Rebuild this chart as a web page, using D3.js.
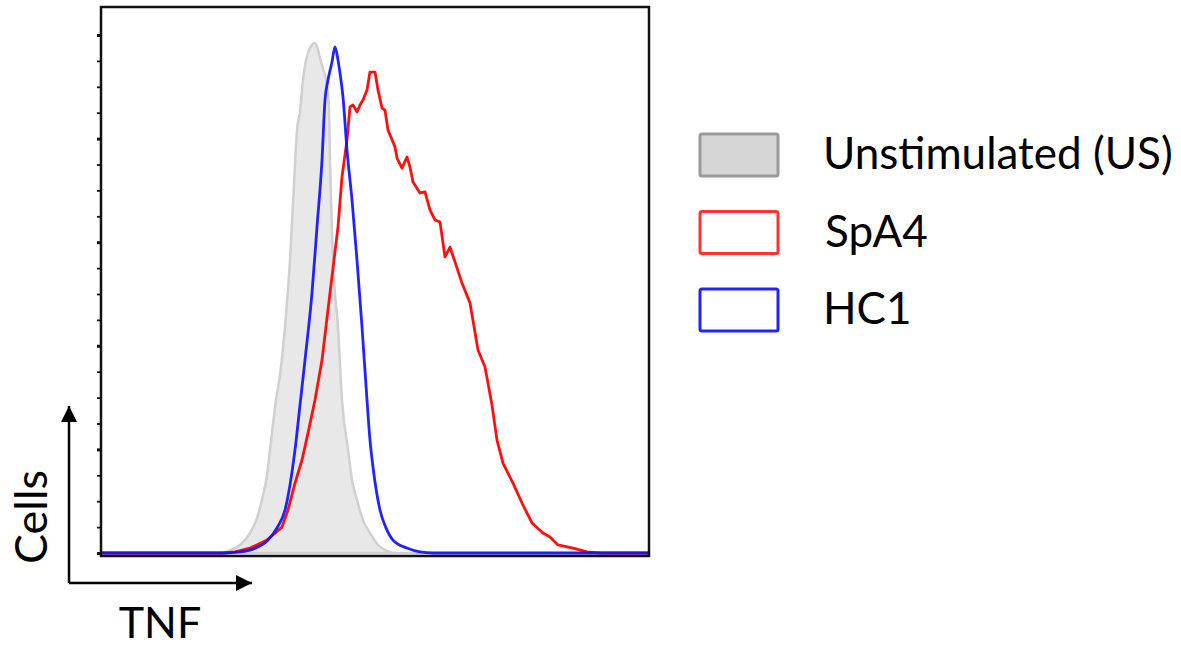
<!DOCTYPE html>
<html>
<head>
<meta charset="utf-8">
<script src="https://cdn.jsdelivr.net/npm/d3@7"></script>
<style>
  body { margin: 0; background: #fff; }
  svg text { font-family: Lato, "Noto Sans", sans-serif; fill: #000; }
</style>
</head>
<body>
<div id="histogram"></div>
<script>
'use strict';

/*** Data (TNF channel, cell count) */
const unstimX = [0, 24, 25.6, 28, 30, 31.4, 32.4, 33.4, 34, 35.2, 36, 37, 38, 39, 39.4, 40, 40.6, 41.2, 42, 43,
                 43.6, 44.2, 44.8, 45.4, 45.8, 46, 46.6, 47.6, 48.4, 49.6, 50.4, 51.4, 52.6, 54, 55.6, 57.4, 59, 110];
const unstimY = [0, 0, 0.08, 0.31, 0.77, 1.35, 2.05, 3.01, 3.98, 5.91, 6.87, 8.73, 11.31, 14.98, 16.33, 17.03, 18.26, 19.03, 19.5, 19.69,
                 19.42, 18.96, 18.57, 18.07, 17.1, 15.17, 11.31, 8.73, 5.91, 3.98, 2.82, 2.05, 1.27, 0.77, 0.31, 0.08, 0, 0];

const spa4X = [0, 24.4, 27, 30, 33.4, 36.4, 37.6, 39, 40.4, 41.6, 43, 44.4, 46, 47.6, 48.4, 49.4, 50, 50.6, 51.4, 52,
               52.6, 53.4, 54, 55, 55.6, 56.4, 57, 57.6, 59, 59.4, 60.4, 61.4, 62, 62.6, 64, 65, 66, 67, 68, 69,
               70, 71, 72.4, 74, 75.6, 77, 78.4, 79.4, 80.6, 82.6, 84.4, 86.4, 88.6, 90, 91.6, 94.6, 97.4, 100, 109.6];
const spa4Y = [0, 0, 0.04, 0.19, 0.5, 1.0, 1.66, 2.7, 3.59, 4.63, 5.91, 7.45, 10.04, 12.59, 14.52, 15.95, 17.22, 17.3, 17.03, 17.3,
               17.49, 17.88, 18.57, 18.57, 17.88, 17.18, 17.1, 16.33, 15.68, 15.25, 14.86, 15.29, 14.9, 14.32, 13.9, 13.94, 13.24, 12.86, 12.78, 11.43,
               11.81, 11.24, 10.42, 9.65, 7.84, 7.18, 5.71, 4.36, 3.47, 2.7, 1.93, 1.16, 0.77, 0.62, 0.31, 0.19, 0.04, 0, 0];

const hc1X = [0, 25, 28, 30.6, 33.4, 35.4, 37, 38, 39, 40, 41, 42.4, 43.4, 44.4, 45, 45.6, 46.4, 47, 47.6, 48,
              48.6, 49.4, 50.4, 51.4, 52.4, 53.4, 54, 54.6, 56, 57.2, 58.6, 61.4, 64, 66.6, 110];
const hc1Y = [0, 0, 0.04, 0.15, 0.46, 0.97, 1.66, 2.63, 3.98, 5.71, 7.45, 10.04, 12.59, 15.17, 17.49, 18.26, 18.96, 19.54, 19.03, 18.53,
              17.61, 15.56, 13.63, 11.31, 8.73, 5.91, 4.36, 3.32, 1.66, 0.97, 0.5, 0.19, 0.04, 0, 0];

/** Legend */
const legendLabels = ["Unstimulated (US)", "SpA4", "HC1"];
const yTickValues = d3.range(0, 21);

/*** Graph dimensions */
const w = 1181;
const h = 648;
const plot = {left: 101, right: 649, top: 7, bottom: 556, zero: 553};

const svg = d3.select("#histogram")
    .append("svg")
    .attr("width", w)
    .attr("height", h);

const xScale = d3.scaleLinear()
    .domain([0, 110])
    .range([100, 650]);

const yScale = d3.scaleLinear()
    .domain([0, 21])
    .range([plot.zero, plot.zero - 21 * 25.9]);

const toPoints = (xs, ys) => xs.map((x, i) => [x, ys[i]]);

const line = d3.line()
    .x(d => xScale(d[0]))
    .y(d => yScale(d[1]));

const area = d3.area()
    .x(d => xScale(d[0]))
    .y0(yScale(0))
    .y1(d => yScale(d[1]))
    .curve(d3.curveMonotoneX);

/** Unstimulated: filled grey */
svg.append("path")
    .datum(toPoints(unstimX, unstimY))
    .attr("d", area)
    .attr("fill", "#e8e8e8")
    .attr("stroke", "#d0d0d0")
    .attr("stroke-width", 2.5);

/** SpA4: red line */
svg.append("path")
    .datum(toPoints(spa4X, spa4Y))
    .attr("d", line)
    .attr("fill", "none")
    .attr("stroke", "#ff1010")
    .attr("stroke-width", 2.8)
    .attr("stroke-linejoin", "round");

/** HC1: blue line */
svg.append("path")
    .datum(toPoints(hc1X, hc1Y))
    .attr("d", line.curve(d3.curveMonotoneX))
    .attr("fill", "none")
    .attr("stroke", "#1010ff")
    .attr("stroke-width", 2.8)
    .attr("stroke-opacity", 0.92);

/** Frame */
svg.append("rect")
    .attr("x", plot.left)
    .attr("y", plot.top)
    .attr("width", plot.right - plot.left)
    .attr("height", plot.bottom - plot.top)
    .attr("fill", "none")
    .attr("stroke", "#111")
    .attr("stroke-width", 2.5);

/** y ticks, no labels */
const yAxis = d3.axisLeft(yScale)
    .tickValues(yTickValues)
    .tickSize(4)
    .tickFormat("");

const yG = svg.append("g")
    .attr("transform", "translate(" + plot.left + ",0)")
    .call(yAxis);
yG.select(".domain").remove();
yG.selectAll(".tick line")
    .attr("stroke", "#111")
    .attr("stroke-width", d => d % 4 === 0 ? 3 : 1.8);

/*** Axis arrows */
const defs = svg.append("defs");
defs.append("marker")
    .attr("id", "arrow")
    .attr("viewBox", "0 0 10 10")
    .attr("refX", 10)
    .attr("refY", 5)
    .attr("markerWidth", 16)
    .attr("markerHeight", 16)
    .attr("markerUnits", "userSpaceOnUse")
    .attr("orient", "auto")
    .append("path")
    .attr("d", "M0,0 L10,5 L0,10 Z")
    .attr("fill", "#000");

svg.append("path")
    .attr("d", "M69,583 L69,406")
    .attr("stroke", "#000")
    .attr("stroke-width", 2.5)
    .attr("marker-end", "url(#arrow)");

svg.append("path")
    .attr("d", "M69,583 L252,583")
    .attr("stroke", "#000")
    .attr("stroke-width", 2.5)
    .attr("marker-end", "url(#arrow)");

svg.append("text")
    .attr("x", 160)
    .attr("y", 638)
    .attr("text-anchor", "middle")
    .attr("font-size", 43)
    .text("TNF");

svg.append("text")
    .attr("transform", "translate(47,517) rotate(-90)")
    .attr("text-anchor", "middle")
    .attr("font-size", 45)
    .text("Cells");

/*** Legend */
const legendStyle = [
    {fill: "#d6d6d6", stroke: "#9a9a9a"},
    {fill: "#fff", stroke: "#ff3333"},
    {fill: "#fff", stroke: "#2222ff"}
];

const legend = svg.selectAll(".legend")
    .data(legendLabels)
    .enter()
    .append("g")
    .attr("class", "legend")
    .attr("transform", (d, i) => "translate(0," + (155 + i * 77.5) + ")");

legend.append("rect")
    .attr("x", 700)
    .attr("y", -21)
    .attr("width", 78)
    .attr("height", 42)
    .attr("rx", 2)
    .attr("fill", (d, i) => legendStyle[i].fill)
    .attr("stroke", (d, i) => legendStyle[i].stroke)
    .attr("stroke-width", 3);

legend.append("text")
    .attr("x", (d, i) => i === 1 ? 825 : 823)
    .attr("y", 14)
    .attr("font-size", 44)
    .text(d => d);
</script>
</body>
</html>
